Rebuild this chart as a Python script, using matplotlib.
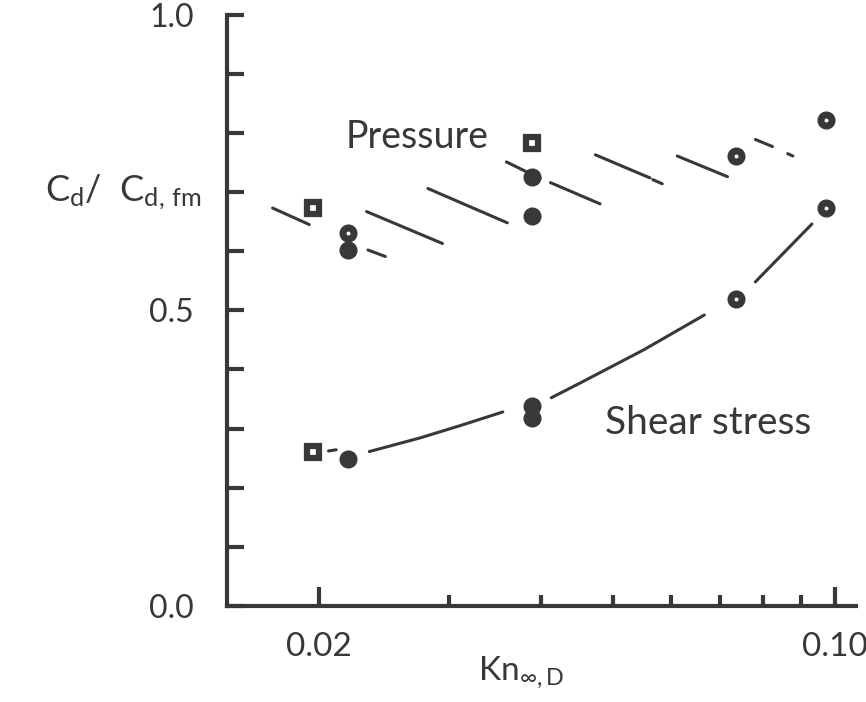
import matplotlib
matplotlib.use('Agg')
import matplotlib.pyplot as plt
from matplotlib.ticker import FixedLocator, NullFormatter
import numpy as np

plt.rcParams['font.family'] = ['Lato', 'DejaVu Sans']
plt.rcParams['mathtext.fontset'] = 'custom'
plt.rcParams['mathtext.rm'] = 'Lato'
plt.rcParams['mathtext.it'] = 'Lato'

ink = '#383838'

# Pressure drag data
p_sq_x = [0.0196, 0.0389]
p_sq_y = [0.673, 0.783]
p_open_x = [0.0219, 0.0736, 0.0974]
p_open_y = [0.631, 0.761, 0.822]
p_fill_x = [0.0219, 0.0389, 0.0389]
p_fill_y = [0.602, 0.726, 0.660]

# Shear stress data
s_sq_x = [0.0196]
s_sq_y = [0.261]
s_open_x = [0.0736, 0.0974]
s_open_y = [0.519, 0.673]
s_fill_x = [0.0219, 0.0389, 0.0389]
s_fill_y = [0.249, 0.338, 0.318]

# shear fit curve, drawn in broken pieces
curve_pieces = [
    ([0.0206, 0.0211], [0.262, 0.264]),
    ([0.0234, 0.0274, 0.0311, 0.0355], [0.261, 0.284, 0.305, 0.328]),
    ([0.0413, 0.0452, 0.0551, 0.0666], [0.352, 0.377, 0.433, 0.492]),
    ([0.0781, 0.0932], [0.548, 0.646]),
]

# hatch strokes of the pressure band
hatch_x0 = [0.0173, 0.0232, 0.0233, 0.0281, 0.0359, 0.0412, 0.0474, 0.0567, 0.0612, 0.0781, 0.0864]
hatch_x1 = [0.0194, 0.0294, 0.0246, 0.0360, 0.0399, 0.0481, 0.0562, 0.0584, 0.0716, 0.0824, 0.0878]
hatch_y0 = [0.673, 0.667, 0.602, 0.706, 0.751, 0.716, 0.763, 0.721, 0.761, 0.789, 0.765]
hatch_y1 = [0.645, 0.613, 0.591, 0.648, 0.723, 0.680, 0.724, 0.714, 0.726, 0.777, 0.761]

fig = plt.figure(figsize=(8.66, 7.02), dpi=100)
ax = fig.add_axes([0.262, 0.137, 0.727, 0.842])
ax.set_xscale('log')
ax.set_xlim(0.0150, 0.1071)
ax.set_ylim(0.0, 1.0)

for x0, x1, y0, y1 in zip(hatch_x0, hatch_x1, hatch_y0, hatch_y1):
    ax.plot([x0, x1], [y0, y1], color=ink, lw=2.2, solid_capstyle='round')

for cx, cy in curve_pieces:
    ax.plot(cx, cy, color=ink, lw=2.2, solid_capstyle='round')

for xs, ys in [(p_sq_x, p_sq_y), (s_sq_x, s_sq_y)]:
    ax.plot(xs, ys, 's', ms=8.3, mfc='white', mec=ink, mew=4.5, ls='none')
for xs, ys in [(p_open_x, p_open_y), (s_open_x, s_open_y)]:
    ax.plot(xs, ys, 'o', ms=8.0, mfc='white', mec=ink, mew=5.0, ls='none')
for xs, ys in [(p_fill_x, p_fill_y), (s_fill_x, s_fill_y)]:
    ax.plot(xs, ys, 'o', ms=12, color=ink, ls='none')

ax.text(0.0217, 0.794, 'Pressure', fontsize=27, color=ink, ha='left', va='center')
ax.text(0.0489, 0.310, 'Shear stress', fontsize=28, color=ink, ha='left', va='center')

for s in ['top', 'right']:
    ax.spines[s].set_visible(False)
for s in ['left', 'bottom']:
    ax.spines[s].set_linewidth(3)
    ax.spines[s].set_color(ink)

ax.xaxis.set_major_locator(FixedLocator([0.02, 0.10]))
ax.xaxis.set_minor_locator(FixedLocator([0.03, 0.04, 0.05, 0.06, 0.07, 0.08, 0.09]))
ax.set_xticklabels(['0.02', '0.10'])
ax.xaxis.set_minor_formatter(NullFormatter())
ax.tick_params(axis='x', which='major', direction='in', length=14, width=3, color=ink,
               labelsize=24, labelcolor=ink, pad=19)
ax.tick_params(axis='x', which='minor', direction='in', length=8, width=3, color=ink)

ax.yaxis.set_major_locator(FixedLocator([0.0, 0.5, 1.0]))
ax.yaxis.set_minor_locator(FixedLocator([0.1, 0.2, 0.3, 0.4, 0.6, 0.7, 0.8, 0.9]))
ax.set_yticklabels(['0.0', '0.5', '1.0'])
ax.tick_params(axis='y', which='both', direction='in', length=12, width=3, color=ink,
               labelsize=23, labelcolor=ink, pad=24)

fig.text(0.602, 0.043, r'Kn$_{\infty,\mathrm{D}}$', fontsize=24, color=ink,
         ha='center', va='center')
fig.text(0.052, 0.712, r'C$_\mathrm{d}$/  C$_\mathrm{d,\,fm}$', fontsize=26, color=ink,
         ha='left', va='baseline')

fig.savefig('out.png', dpi=100)
